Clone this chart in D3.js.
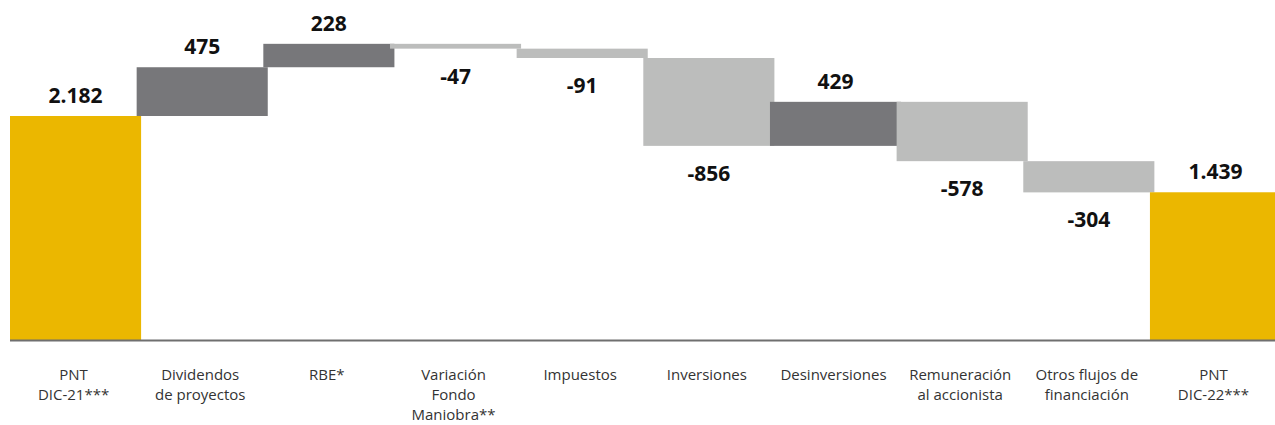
<!DOCTYPE html>
<html><head><meta charset="utf-8">
<script src="https://cdn.jsdelivr.net/npm/d3@7"></script>
<style>body{margin:0;background:#fff}svg{display:block}</style>
</head><body>
<svg id="c" width="1275" height="425"></svg>
<script>
const categories = [["PNT","DIC-21***"],["Dividendos","de proyectos"],["RBE*"],["Variación","Fondo","Maniobra**"],["Impuestos"],["Inversiones"],["Desinversiones"],["Remuneración","al accionista"],["Otros flujos de","financiación"],["PNT","DIC-22***"]];
const values = [2182, 475, 228, -47, -91, -856, 429, -578, -304, 1439];
const labels = ["2.182","475","228","-47","-91","-856","429","-578","-304","1.439"];
const kinds = ["total","delta","delta","delta","delta","delta","delta","delta","delta","total"];

const svg = d3.select("#c");
const keys = categories.map((c,i)=>i);
const x = d3.scaleBand().domain(keys).range([10, 1276.6]).padding(0);
const y = d3.scaleLinear().domain([0, 2182]).range([340, 116]);
const bw = x.bandwidth()*1.035;

let run = 0;
const bars = values.map((v,i)=>{
  let lo, hi;
  if (kinds[i]==="total"){ lo=0; hi=v; run=v; }
  else { const s=run; run=s+v; lo=Math.min(s,run); hi=Math.max(s,run); }
  return {i, v, lo, hi};
});
const color = d => kinds[d.i]==="total" ? "#EBB700" : (d.v>0 ? "#77777A" : "#BCBDBC");

svg.selectAll("rect.b").data(bars).join("rect")
  .attr("x", d=>x(d.i)).attr("width", bw)
  .attr("y", d=>y(d.hi)).attr("height", d=>y(d.lo)-y(d.hi))
  .attr("fill", color);

svg.append("line").attr("x1",10).attr("x2",1275).attr("y1",340.5).attr("y2",340.5)
  .attr("stroke","#6f6f6f").attr("stroke-width",2);

svg.selectAll("text.v").data(bars).join("text")
  .attr("x", d=>x(d.i)+bw/2)
  .attr("y", d=> d.v>0 ? y(d.hi)-13 : y(d.lo)+35)
  .attr("text-anchor","middle")
  .attr("font-family","'Open Sans', sans-serif").attr("font-weight","bold").attr("font-size",21)
  .attr("fill","#111").text(d=>labels[d.i]);

const g = svg.selectAll("text.c").data(categories).join("text")
  .attr("text-anchor","middle")
  .attr("font-family","'Open Sans', sans-serif").attr("font-size",15).attr("fill","#333");
g.each(function(lines,i){
  d3.select(this).selectAll("tspan").data(lines).join("tspan")
    .attr("x", x(i)+bw/2 - 2).attr("y",(l,j)=>380+j*20).text(l=>l);
});
</script>
</body></html>
